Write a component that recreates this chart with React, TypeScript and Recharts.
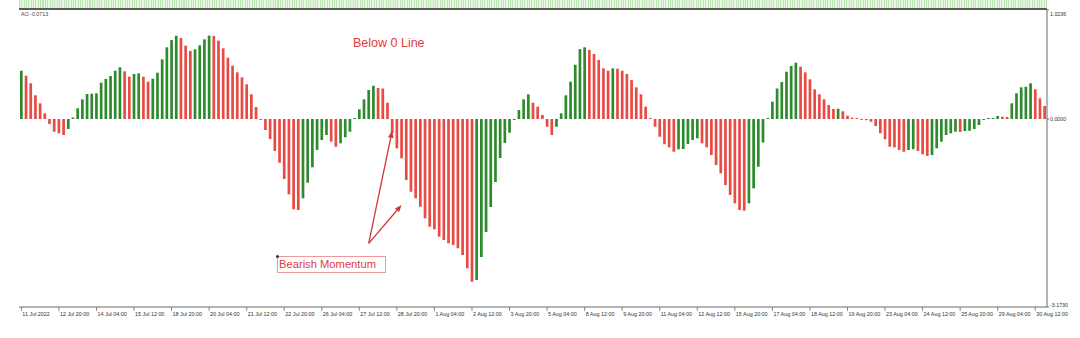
import React from "react"
import { BarChart, Bar, Cell, XAxis, YAxis, ReferenceLine } from "recharts"

// Awesome Oscillator, 4H bars from 11 Jul 2022 12:00 to 30 Aug 2022 20:00
const aoValues = [
  0.815, 0.731, 0.603, 0.4, 0.265, 0.096, -0.084, -0.214, -0.241, -0.27,
  -0.169, 0.025, 0.181, 0.332, 0.422, 0.427, 0.434, 0.613, 0.675, 0.726,
  0.815, 0.873, 0.805, 0.714, 0.76, 0.771, 0.714, 0.63, 0.68, 0.781,
  1.008, 1.21, 1.333, 1.406, 1.367, 1.237, 1.148, 1.176, 1.244, 1.345,
  1.409, 1.401, 1.322, 1.193, 1.035, 0.9, 0.788, 0.704, 0.586, 0.417,
  0.203, -0.008, -0.186, -0.338, -0.54, -0.738, -1.013, -1.271, -1.524, -1.536,
  -1.338, -1.075, -0.815, -0.523, -0.354, -0.27, -0.383, -0.468, -0.41, -0.309,
  -0.214, 0.007, 0.164, 0.332, 0.489, 0.562, 0.523, 0.515, 0.275, -0.241,
  -0.495, -0.663, -1.03, -1.227, -1.338, -1.48, -1.676, -1.818, -1.862, -1.987,
  -2.042, -2.098, -2.127, -2.182, -2.295, -2.52, -2.746, -2.717, -2.329, -1.907,
  -1.485, -1.063, -0.658, -0.405, -0.231, -0.008, 0.152, 0.332, 0.417, 0.275,
  0.208, 0.068, -0.13, -0.27, -0.13, 0.096, 0.4, 0.63, 0.916, 1.181,
  1.21, 1.165, 1.097, 0.996, 0.856, 0.815, 0.856, 0.849, 0.815, 0.76,
  0.658, 0.535, 0.417, 0.208, 0.017, -0.13, -0.299, -0.427, -0.478, -0.552,
  -0.511, -0.506, -0.422, -0.354, -0.326, -0.41, -0.478, -0.608, -0.776, -0.916,
  -1.114, -1.283, -1.423, -1.536, -1.548, -1.423, -1.17, -0.805, -0.397, 0.008,
  0.292, 0.515, 0.624, 0.798, 0.895, 0.95, 0.883, 0.788, 0.67, 0.501,
  0.417, 0.332, 0.236, 0.169, 0.174, 0.13, 0.056, 0.022, 0.007, -0.017,
  -0.02, -0.046, -0.118, -0.241, -0.343, -0.468, -0.478, -0.523, -0.552, -0.523,
  -0.511, -0.54, -0.596, -0.624, -0.608, -0.495, -0.383, -0.27, -0.241, -0.214,
  -0.219, -0.203, -0.199, -0.169, -0.101, -0.017, 0.012, 0.017, 0.051, 0.039,
  0.034, 0.265, 0.434, 0.535, 0.545, 0.603, 0.501, 0.349, 0.219,
]

// one time label every eight bars
const timeLabels = [
  "11 Jul 2022", "12 Jul 20:00", "14 Jul 04:00", "15 Jul 12:00", "18 Jul 20:00",
  "20 Jul 04:00", "21 Jul 12:00", "22 Jul 20:00", "26 Jul 04:00", "27 Jul 12:00",
  "28 Jul 20:00", "1 Aug 04:00", "2 Aug 12:00", "3 Aug 20:00", "5 Aug 04:00",
  "8 Aug 12:00", "9 Aug 20:00", "11 Aug 04:00", "12 Aug 12:00", "15 Aug 20:00",
  "17 Aug 04:00", "18 Aug 12:00", "19 Aug 20:00", "23 Aug 04:00", "24 Aug 12:00",
  "25 Aug 20:00", "29 Aug 04:00", "30 Aug 12:00",
]
const LABEL_STEP = 8

const yMin = -3.173
const yMax = 1.84
const levelTicks = [yMax, 0, yMin]
const levelLabels = ["1.0236", "0.0000", "-3.1730"]

// annotation arrows: [bar index, value] from a shared tail
const arrowTail = { x: 74, y: -2.1 }
const arrowTips = [
  { x: 79, y: -0.2 },
  { x: 81, y: -1.45 },
]

const UP = "#2d8a2d"
const DOWN = "#e84a44"
const AXIS = "#6b6b6b"
const FONT = "'Liberation Sans', Arial, sans-serif"

const data = aoValues.map((ao, i) => ({
  i,
  ao,
  up: i === 0 || ao > aoValues[i - 1],
}))

const timeTicks = timeLabels.map((_, k) => k * LABEL_STEP)

const TimeTick = ({ x, y, payload }: any) => (
  <g>
    <line x1={x} y1={y} x2={x} y2={y + 4} stroke={AXIS} strokeWidth={0.8} />
    <text x={x + 1} y={y + 9} fontSize={5.4} fill="#333" fontFamily={FONT}>
      {timeLabels[payload.value / LABEL_STEP]}
    </text>
  </g>
)

const LevelTick = ({ x, y, payload }: any) => (
  <text
    x={x}
    y={Math.min(Math.max(y, 13.5), 305)}
    fontSize={5.3}
    fill="#333"
    fontFamily={FONT}
    dominantBaseline="central"
  >
    {levelLabels[levelTicks.indexOf(payload.value)]}
  </text>
)

const Arrow = ({ x1, y1, x2, y2 }: any) => {
  const a = Math.atan2(y2 - y1, x2 - x1)
  const len = 7
  const w = 2.8
  const bx = x2 - len * Math.cos(a)
  const by = y2 - len * Math.sin(a)
  const pts = `${x2},${y2} ${bx + w * Math.sin(a)},${by - w * Math.cos(a)} ${bx - w * Math.sin(a)},${by + w * Math.cos(a)}`
  return (
    <g>
      <line x1={x1} y1={y1} x2={bx} y2={by} stroke="#cf3636" strokeWidth={1.3} />
      <polygon points={pts} fill="#cf3636" />
    </g>
  )
}

export default function App() {
  return (
    <div
      style={{
        position: "absolute",
        left: 0,
        top: 0,
        width: 1080,
        height: 338,
        background: "#fff",
        overflow: "hidden",
        fontFamily: FONT,
      }}
    >
      {/* clipped upper pane */}
      <div
        style={{
          position: "absolute",
          left: 19,
          top: 0,
          width: 1028,
          height: 8,
          background:
            "repeating-linear-gradient(90deg, #bde5b6 0px, #bde5b6 1px, #e6f8e2 1px, #e6f8e2 2.35px)",
          borderBottom: "2px solid #5a5a5a",
        }}
      />
      <div
        style={{
          position: "absolute",
          left: 21,
          top: 11,
          fontSize: 5.3,
          color: "#444",
        }}
      >
        AO -0.0713
      </div>

      <BarChart
        width={1080}
        height={338}
        data={data}
        margin={{ top: 10, right: 0, bottom: 0, left: 19 }}
        barSize={2.7}
      >
        <XAxis
          dataKey="i"
          type="category"
          ticks={timeTicks}
          interval={0}
          height={31}
          tickSize={0}
          tickMargin={0}
          tickLine={false}
          axisLine={{ stroke: AXIS, strokeWidth: 1 }}
          tick={<TimeTick />}
        />
        <YAxis
          yAxisId="left"
          orientation="left"
          width={0}
          domain={[yMin, yMax]}
          allowDataOverflow
          tick={false}
          tickLine={false}
          axisLine={{ stroke: AXIS, strokeWidth: 1 }}
        />
        <YAxis
          yAxisId="right"
          orientation="right"
          width={33}
          domain={[yMin, yMax]}
          allowDataOverflow
          ticks={levelTicks}
          interval={0}
          tickSize={2}
          tickMargin={1}
          tickLine={{ stroke: AXIS }}
          axisLine={{ stroke: AXIS, strokeWidth: 1 }}
          tick={<LevelTick />}
        />
        <Bar
          yAxisId="left"
          dataKey="ao"
          minPointSize={1}
          isAnimationActive={false}
        >
          {data.map((d) => (
            <Cell key={d.i} fill={d.up ? UP : DOWN} />
          ))}
        </Bar>
        {arrowTips.map((tip, k) => (
          <ReferenceLine
            key={k}
            yAxisId="left"
            segment={[arrowTail, tip]}
            shape={(p: any) => <Arrow {...p} />}
            ifOverflow="visible"
          />
        ))}
      </BarChart>

      <div
        style={{
          position: "absolute",
          left: 353,
          top: 36,
          fontSize: 12.5,
          color: "#e23b3b",
          whiteSpace: "nowrap",
        }}
      >
        Below 0 Line
      </div>

      <div
        style={{
          position: "absolute",
          left: 277,
          top: 256,
          width: 106,
          height: 15,
          border: "1px solid #ee9a9a",
          fontSize: 11.2,
          lineHeight: "15px",
          color: "#e23b3b",
          paddingLeft: 1,
          whiteSpace: "nowrap",
        }}
      >
        <span
          style={{
            position: "absolute",
            left: -2,
            top: -2,
            width: 3,
            height: 3,
            borderRadius: 2,
            background: "#333",
          }}
        />
        Bearish Momentum
      </div>
    </div>
  )
}
